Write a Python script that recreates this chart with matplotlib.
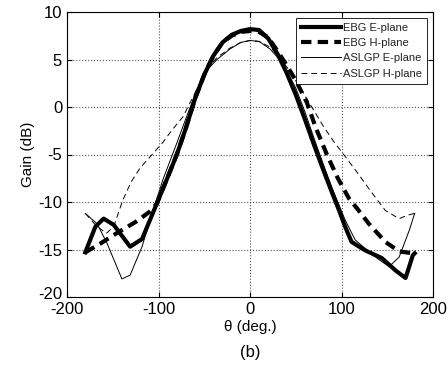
import matplotlib.pyplot as plt
import matplotlib.transforms as mtransforms

# EBG E-plane (thick solid)
ebg_e_x = [-180, -169, -160, -149, -131, -118, -102, -90, -80, -70, -60, -50, -40, -30, -20, -10, 0,
           10, 20, 30, 40, 50, 60, 70, 80, 90, 97, 104, 111, 126, 144, 159, 170, 178, 180]
ebg_e_y = [-15.3, -12.6, -11.75, -12.4, -14.7, -13.9, -10.2, -7.4, -5.0, -2.2, 0.9, 3.4, 5.4, 6.8, 7.6, 8.0, 8.2,
           8.1, 7.2, 5.6, 3.6, 1.3, -1.3, -4.0, -6.6, -9.1, -10.8, -12.6, -14.2, -15.1, -15.9, -17.2, -18.0, -15.6, -15.4]

# EBG H-plane (thick dashed)
ebg_h_x = [-180, -164, -146, -125, -110, -102, -90, -80, -70, -60, -50, -40, -30, -20, -10, 0,
           10, 20, 30, 40, 50, 62, 72, 84, 96, 108, 118, 130, 148, 163, 178]
ebg_h_y = [-15.3, -14.4, -13.3, -12.1, -11.05, -10.2, -7.4, -5.0, -2.2, 0.9, 3.4, 5.4, 6.8, 7.5, 7.9, 8.0,
           7.9, 7.3, 5.9, 4.4, 2.8, 0.5, -2.2, -5.0, -7.5, -9.6, -10.8, -12.3, -14.2, -15.2, -15.4]

# ASLGP E-plane (thin solid)
aslgp_e_x = [-180, -167, -156, -140, -131, -118, -107, -95, -80, -70, -60, -48, -36, -22, -10, 0,
             10, 22, 36, 50, 60, 70, 80, 90, 104, 115, 126, 140, 152, 163, 174, 180]
aslgp_e_y = [-11.2, -12.3, -14.4, -18.1, -17.7, -14.7, -11.2, -7.6, -3.8, -1.2, 1.3, 3.8, 5.0, 6.1, 6.8, 7.0,
             6.9, 6.1, 4.6, 2.0, -0.5, -3.3, -6.0, -8.6, -11.9, -14.0, -14.9, -16.0, -16.8, -15.8, -13.0, -11.2]

# ASLGP H-plane (thin dashed)
aslgp_h_x = [-180, -168, -157, -149, -139, -130, -120, -106, -95, -85, -73, -60, -48, -36, -22, -10, 0,
             10, 22, 33, 44, 55, 65, 80, 92, 104, 118, 133, 148, 163, 172, 180]
aslgp_h_y = [-11.2, -12.5, -13.3, -12.6, -9.8, -7.9, -6.4, -4.9, -3.7, -2.4, -1.0, 1.5, 3.9, 5.2, 6.2, 6.8, 7.0,
             6.9, 6.3, 5.2, 3.7, 2.0, 0.4, -2.0, -3.7, -5.2, -7.0, -9.0, -10.9, -11.75, -11.4, -11.2]

plt.rcParams['font.family'] = ['Liberation Sans', 'DejaVu Sans']
plt.rcParams['axes.unicode_minus'] = False

fig = plt.figure(figsize=(4.48, 3.72), dpi=100)
ax = fig.add_axes([67 / 448, 1 - 297 / 372, 366 / 448, 285 / 372])

ax.plot(ebg_e_x, ebg_e_y, color='black', lw=3.0, label='EBG E-plane')
ax.plot(ebg_h_x, ebg_h_y, color='black', lw=3.0, ls=(0, (2.5, 1.5)), label='EBG H-plane')
ax.plot(aslgp_e_x, aslgp_e_y, color='black', lw=0.7, label='ASLGP E-plane')
ax.plot(aslgp_h_x, aslgp_h_y, color='black', lw=0.7, ls=(0, (6, 4)), label='ASLGP H-plane')

ax.set_xlim(-200, 200)
ax.set_ylim(-20, 10)
ax.set_xticks([-200, -100, 0, 100, 200])
ax.set_yticks([-20, -15, -10, -5, 0, 5, 10])
ax.grid(True, ls=':', color='#555555', lw=0.8)
ax.tick_params(direction='in', labelsize=12, top=True, right=True)
ax.set_xlabel('θ (deg.)', fontsize=11, labelpad=2)
ax.set_ylabel('Gain (dB)', fontsize=11, labelpad=2)

# lift the bottom y label a little so it does not sit on top of "-200"
lbl = ax.get_yticklabels()[0]
lbl.set_transform(lbl.get_transform() + mtransforms.ScaledTranslation(0, 4 / 100, fig.dpi_scale_trans))

leg = ax.legend(loc='upper right', fontsize=8, handlelength=3.6, handletextpad=0.2,
                borderpad=0.45, labelspacing=0.48, fancybox=False, framealpha=1,
                edgecolor='black', borderaxespad=0.5)
leg.get_frame().set_linewidth(0.6)
for t in leg.get_texts():
    t.set_color('#222222')

fig.text(250 / 448, 1 - 353 / 372, '(b)', fontsize=12, ha='center', va='center')

fig.savefig('out.png', dpi=100)
